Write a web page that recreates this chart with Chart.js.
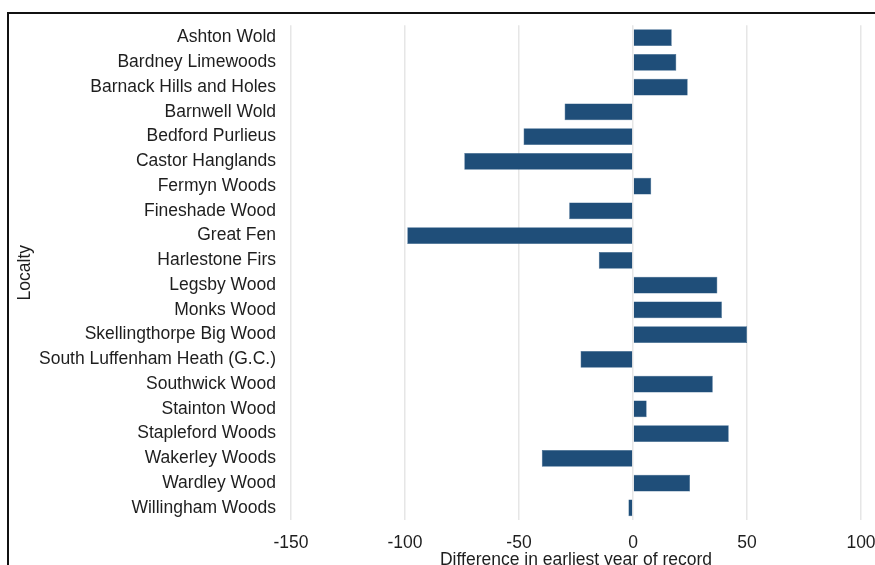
<!DOCTYPE html>
<html>
<head>
<meta charset="utf-8">
<script src="https://cdn.jsdelivr.net/npm/chart.js@4.4.0/dist/chart.umd.min.js"></script>
<style>
  html, body { margin: 0; padding: 0; background: #fff; overflow: hidden; width: 875px; height: 565px; }
  #frame { position: absolute; left: 7px; top: 12px; width: 920px; height: 590px; border-left: 2px solid #111; border-top: 2px solid #111; }
  #wrap { position: absolute; left: 0; top: 0; width: 920px; height: 590px; }
</style>
</head>
<body>
<div id="frame"><div id="wrap"><canvas id="c"></canvas></div></div>
<script>
const categories = [
  "Ashton Wold", "Bardney Limewoods", "Barnack Hills and Holes", "Barnwell Wold",
  "Bedford Purlieus", "Castor Hanglands", "Fermyn Woods", "Fineshade Wood",
  "Great Fen", "Harlestone Firs", "Legsby Wood", "Monks Wood",
  "Skellingthorpe Big Wood", "South Luffenham Heath (G.C.)", "Southwick Wood",
  "Stainton Wood", "Stapleford Woods", "Wakerley Woods", "Wardley Wood", "Willingham Woods"
];
const differences = [17, 19, 24, -30, -48, -74, 8, -28, -99, -15, 37, 39, 50, -23, 35, 6, 42, -40, 25, -2];
const xTicks = [-150, -100, -50, 0, 50, 100];
const xTitle = "Difference in earliest year of record";
const yTitle = "Localty";

const FONT = "'Liberation Sans', Arial, sans-serif";
const FS = 17.5;

new Chart(document.getElementById('c'), {
  type: 'bar',
  data: {
    labels: categories,
    datasets: [{
      data: differences,
      backgroundColor: '#1f4e79',
      borderColor: '#2a5a85',
      borderWidth: 0.5,
      barPercentage: 0.68,
      categoryPercentage: 1.0
    }]
  },
  options: {
    indexAxis: 'y',
    responsive: true,
    maintainAspectRatio: false,
    animation: false,
    layout: { padding: { left: 0, top: 11.2, right: 68, bottom: 33.6 } },
    plugins: { legend: { display: false }, tooltip: { enabled: false } },
    scales: {
      x: {
        min: -150, max: 100,
        afterBuildTicks: (s) => { s.ticks = xTicks.map(v => ({ value: v })); },
        afterFit: (s) => { s.height = 50.2; },
        grid: { color: '#e6e6e6', lineWidth: 1.5, drawTicks: false },
        border: { display: false },
        ticks: { color: '#1e1e1e', font: { family: FONT, size: FS }, padding: 12, maxRotation: 0 },
        title: { display: true, text: xTitle, color: '#1e1e1e', font: { family: FONT, size: FS }, padding: 0 }
      },
      y: {
        afterFit: (s) => { s.width = 282; s.paddingTop = 0; s.paddingBottom = 0; },
        grid: { display: false, drawTicks: false },
        border: { display: false },
        ticks: { color: '#1e1e1e', font: { family: FONT, size: FS }, padding: 15, autoSkip: false },
        title: { display: true, text: yTitle, color: '#1e1e1e', font: { family: FONT, size: FS }, padding: { top: 6, bottom: 0 } }
      }
    }
  }
});
</script>
</body>
</html>
